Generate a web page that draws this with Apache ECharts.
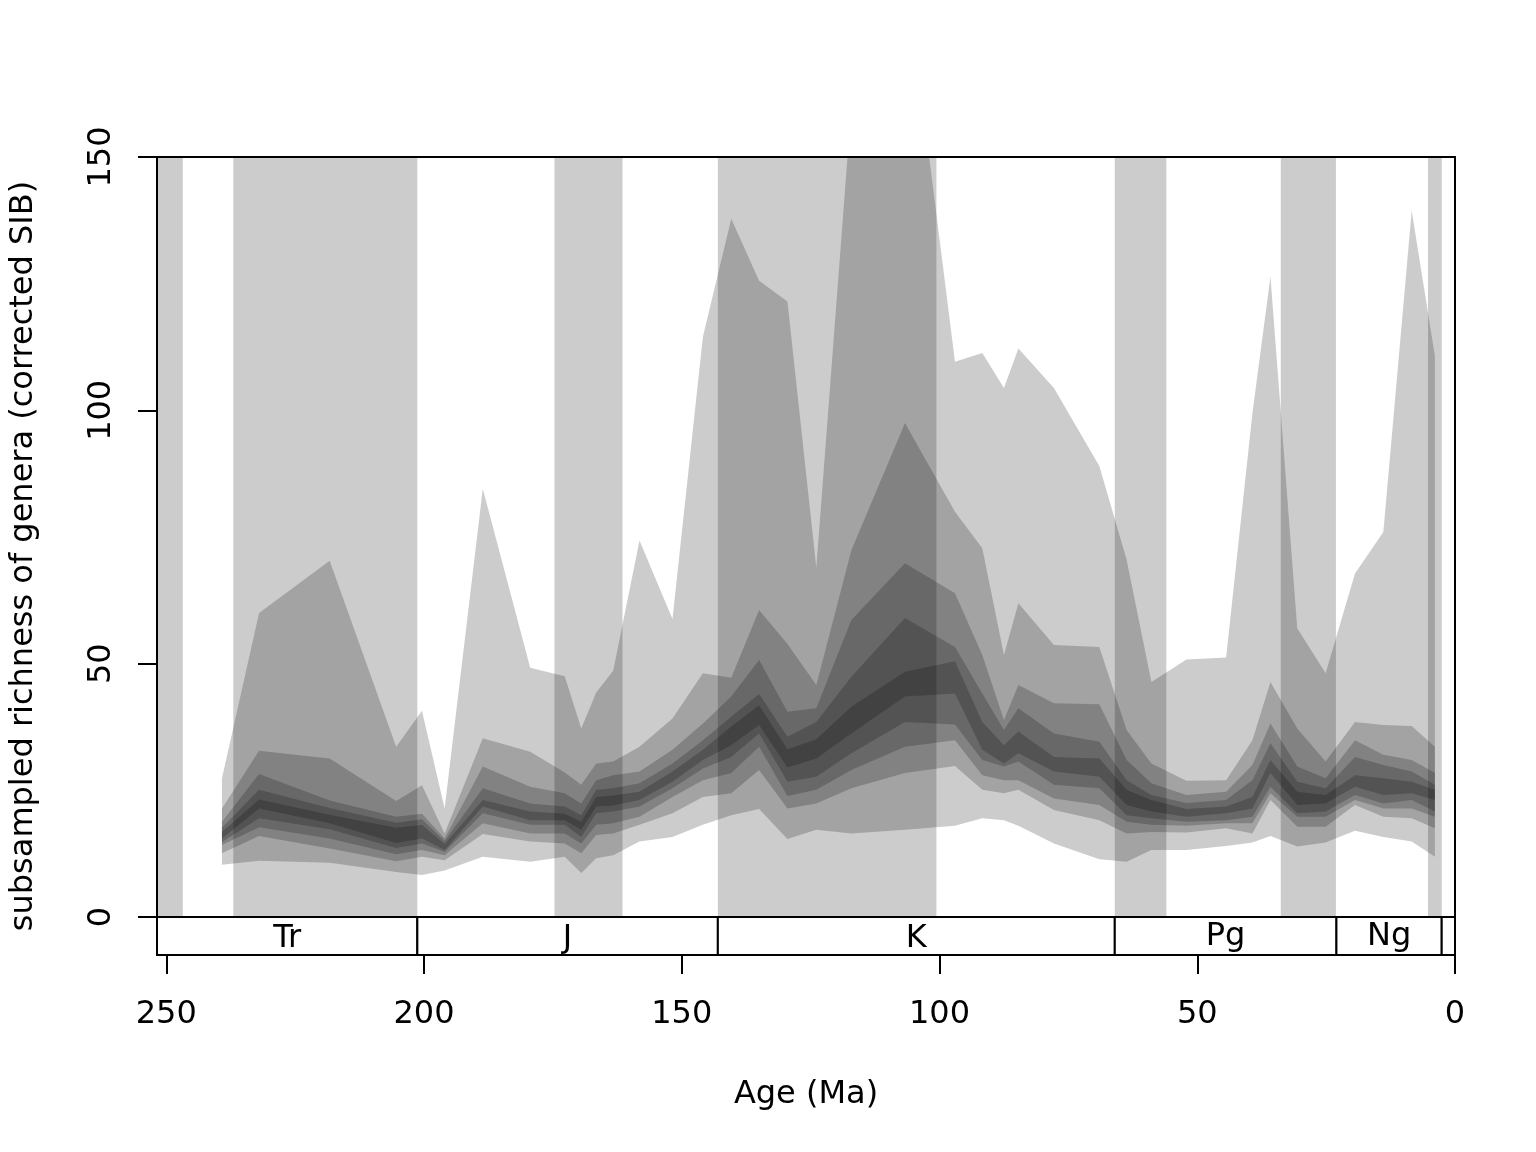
<!DOCTYPE html>
<html>
<head>
<meta charset="utf-8">
<script src="https://cdn.jsdelivr.net/npm/echarts@6/dist/echarts.min.js"></script>
<style>
html,body{margin:0;padding:0;background:#fff;}
#chart{width:1536px;height:1152px;}
</style>
</head>
<body>
<div id="chart"></div>
<script>
// Bin midpoint ages (Ma)
const ages = [239.2, 232.0, 218.3, 205.4, 200.4, 196.0, 188.6, 179.4, 172.7, 169.5, 166.6, 163.3, 158.2, 151.8, 145.9, 140.4, 135.0, 129.5, 123.9, 117.1, 106.7, 97.0, 91.7, 87.5, 84.7, 77.8, 69.0, 63.7, 58.9, 52.1, 44.4, 39.3, 35.8, 30.6, 25.1, 19.4, 13.9, 8.4, 3.9];

// Nested quantile envelopes of subsampled richness (outer q1 ... inner q5)
const q1hi = [27.4, 60, 70.3, 33.6, 40.7, 21.4, 84.5, 49.2, 47.5, 37.2, 44.3, 48.6, 74.3, 58.8, 114.5, 137.8, 125.6, 121.5, 69, 160, 188, 109.6, 111.3, 104.4, 112.2, 104.4, 89, 70.5, 46.4, 50.8, 51.2, 99.4, 126.4, 57, 48.1, 67.8, 76, 139.4, 110.7];
const q2hi = [21.4, 32.8, 31.3, 22.9, 26, 16.5, 35.3, 32.6, 28.5, 26.1, 30.3, 30.7, 33.6, 39.2, 48.1, 47.2, 60.6, 53.9, 45.8, 72.4, 97.5, 80, 72.8, 51.7, 61.9, 53.7, 53.3, 36.9, 30.3, 26.9, 27, 34.9, 46.4, 37.2, 30.7, 38.5, 37.9, 37.7, 33.6];
const q3hi = [18.8, 28.2, 23, 19.8, 20.4, 15.5, 29.7, 25.7, 24.4, 22.4, 27, 28, 28.7, 33, 38.2, 43.5, 50.7, 40.5, 41.2, 58.6, 69.8, 63.9, 51.7, 38.9, 45.8, 42.2, 42, 31, 26.4, 24.1, 24.7, 30, 38.2, 29.7, 27.4, 34.9, 32, 31, 28.4];
const q4hi = [17.6, 25.1, 21.5, 18.6, 19.3, 15.0, 25.4, 22.4, 21.8, 20.1, 25.1, 25.4, 26.4, 30.3, 34.9, 39.5, 44, 35.6, 38.5, 47.4, 59, 53.3, 44.1, 36.9, 41.2, 36.2, 34.6, 27, 24.1, 22.5, 23.1, 27, 34.3, 26.7, 25.4, 31.6, 30, 28.7, 26.1];
const q5hi = [16.8, 23.2, 20.2, 17.6, 18.2, 14.4, 23.1, 20.8, 20.4, 18.8, 23.7, 24, 24.7, 28.7, 33, 37.6, 41.8, 33.1, 35.1, 41.5, 48.4, 50.5, 38.5, 33.9, 36.6, 31.6, 31.3, 25.1, 23.1, 21.3, 21.8, 23.7, 31, 24.7, 24.1, 28, 27.4, 26.7, 25.1];
const q5lo = [15.5, 21.4, 18.5, 14.6, 15.5, 13.2, 21.8, 19.1, 19.1, 17.2, 21.8, 22, 23.1, 26.7, 31, 33.9, 37.9, 29.5, 31.3, 36.2, 43.5, 44.1, 33, 30.3, 32.3, 28.7, 27.7, 22.1, 20.8, 19.8, 20.5, 21.4, 28.4, 22.1, 22.4, 25.7, 24.1, 24.4, 23.1];
const q4lo = [14.8, 19.5, 17.3, 13.6, 14.5, 12.9, 20.5, 18.2, 18.2, 15.8, 20.5, 20.8, 21.8, 25.4, 29.3, 31.6, 36.2, 26.7, 27.7, 32.3, 38.5, 38, 31, 29.7, 30.7, 26.1, 25.4, 20.1, 19.5, 18.8, 19.1, 19.8, 25.7, 20.5, 20.8, 24.1, 22.4, 23.1, 20.8];
const q3lo = [14.2, 17.7, 15.5, 12.4, 13.2, 12.2, 18.5, 16.5, 16.5, 14.5, 18.2, 18.5, 19.8, 23.7, 27, 28.4, 33.6, 23.9, 25.1, 29, 33.6, 34.9, 28, 27, 27, 23.4, 22.1, 18.8, 18.2, 18, 18.5, 18.5, 24.4, 19.8, 19.8, 23.1, 21.4, 21.4, 19.8];
const q2lo = [12.6, 16.0, 13.5, 11.0, 11.9, 11.2, 16.4, 14.9, 14.5, 12.6, 16.2, 16.5, 18.2, 20.5, 23.7, 24.4, 29, 21.4, 22.4, 25.4, 28.4, 29.8, 25.1, 24.4, 25.1, 21.1, 19.1, 16.5, 16.8, 16.7, 17.5, 16.5, 23.1, 17.8, 17.8, 22.1, 19.8, 19.5, 17.5];
const q1lo = [10.3, 11.1, 10.7, 8.9, 8.3, 9.2, 11.9, 10.9, 11.9, 8.7, 11.6, 12.2, 14.9, 15.8, 18.2, 20.1, 21.3, 15.4, 17.2, 16.5, 17.2, 18, 19.5, 19.1, 18, 14.5, 11.4, 10.9, 13.2, 13.2, 14, 14.7, 16, 13.9, 14.7, 17, 15.8, 14.9, 11.9];

// Alternating shaded epochs [older, younger] (Ma)
const epochStart = [251.8, 237.0, 174.7, 143.0, 66.0, 33.8, 5.24];
const epochEnd   = [246.8, 201.3, 161.5, 100.6, 56.0, 23.1, 2.58];

// Periods for the time scale bar
const periodNames = ['Tr', 'J', 'K', 'Pg', 'Ng', ''];
const periodBounds = [251.8, 201.3, 143.0, 66.0, 23.0, 2.58, 0];

// Axis ticks
const xTicks = [0, 50, 100, 150, 200, 250];
const yTicks = [0, 50, 100, 150];

const X_MAX = 251.8, Y_MIN = -7.5, Y_MAX = 150;
const FONT = 'DejaVu Sans';

const chart = echarts.init(document.getElementById('chart'), null, {renderer: 'canvas'});

const epochAreas = epochStart.map((s, i) => [
  {xAxis: s, yAxis: 0, itemStyle: {color: '#cccccc', borderWidth: 0}, label: {show: false}},
  {xAxis: epochEnd[i], yAxis: Y_MAX}
]);
const periodAreas = periodNames.map((n, i) => [
  {name: n, xAxis: periodBounds[i], yAxis: Y_MIN,
   itemStyle: {color: '#ffffff', borderColor: '#000', borderWidth: 2},
   label: {offset: [0, /g/.test(n) ? 1 : 3]}},
  {xAxis: periodBounds[i + 1], yAxis: 0}
]);

const lows = [q1lo, q2lo, q3lo, q4lo, q5lo];
const highs = [q1hi, q2hi, q3hi, q4hi, q5hi];

function bandSeries(lo, hi) {
  return {
    type: 'custom', z: 3, silent: true,
    coordinateSystem: 'cartesian2d',
    data: [[ages[0], lo[0]]],
    renderItem: function (params, api) {
      const pts = [];
      for (let i = 0; i < ages.length; i++) pts.push(api.coord([ages[i], hi[i]]));
      for (let i = ages.length - 1; i >= 0; i--) pts.push(api.coord([ages[i], lo[i]]));
      const cs = params.coordSys;
      return {
        type: 'polygon',
        shape: {points: pts},
        style: {fill: 'rgba(0,0,0,0.2)', stroke: null},
        clipPath: {type: 'rect', shape: {x: cs.x, y: cs.y, width: cs.width, height: cs.height}}
      };
    }
  };
}

const option = {
  animation: false,
  backgroundColor: '#ffffff',
  grid: {left: 157, top: 157, right: 81, bottom: 197, containLabel: false},
  xAxis: [{
    type: 'value', min: 0, max: X_MAX, inverse: true, z: 10,
    position: 'bottom',
    name: 'Age (Ma)', nameLocation: 'middle', nameGap: 124,
    nameTextStyle: {fontFamily: FONT, fontSize: 32, color: '#000'},
    axisLine: {show: true, onZero: false, lineStyle: {color: '#000', width: 2}},
    axisTick: {show: true, length: 19, lineStyle: {color: '#000', width: 2}, customValues: xTicks},
    axisLabel: {show: true, margin: 44, fontFamily: FONT, fontSize: 32, color: '#000', customValues: xTicks},
    splitLine: {show: false}
  }, {
    type: 'value', min: 0, max: X_MAX, inverse: true, z: 10, position: 'top',
    axisLine: {show: true, onZero: false, lineStyle: {color: '#000', width: 2}},
    axisTick: {show: false}, axisLabel: {show: false}, splitLine: {show: false}
  }],
  yAxis: [{
    type: 'value', min: Y_MIN, max: Y_MAX, z: 10, position: 'left',
    name: 'subsampled richness of genera (corrected SIB)',
    nameLocation: 'middle', nameGap: 117, nameRotate: 90,
    nameTextStyle: {fontFamily: FONT, fontSize: 32, color: '#000'},
    axisLine: {show: true, onZero: false, lineStyle: {color: '#000', width: 2}},
    axisTick: {show: true, length: 19, lineStyle: {color: '#000', width: 2}, customValues: yTicks},
    axisLabel: {show: true, rotate: 90, margin: 39, fontFamily: FONT, fontSize: 32, color: '#000', customValues: yTicks},
    splitLine: {show: false}
  }, {
    type: 'value', min: Y_MIN, max: Y_MAX, z: 10, position: 'right',
    axisLine: {show: true, onZero: false, lineStyle: {color: '#000', width: 2}},
    axisTick: {show: false}, axisLabel: {show: false}, splitLine: {show: false}
  }],
  series: [{
    type: 'line', z: 1, silent: true, data: [],
    markArea: {
      silent: true,
      label: {show: true, position: 'inside', fontFamily: FONT, fontSize: 32, color: '#000'},
      data: epochAreas.concat(periodAreas)
    }
  }].concat(lows.map((lo, k) => bandSeries(lo, highs[k])))
};
chart.setOption(option);
</script>
</body>
</html>
